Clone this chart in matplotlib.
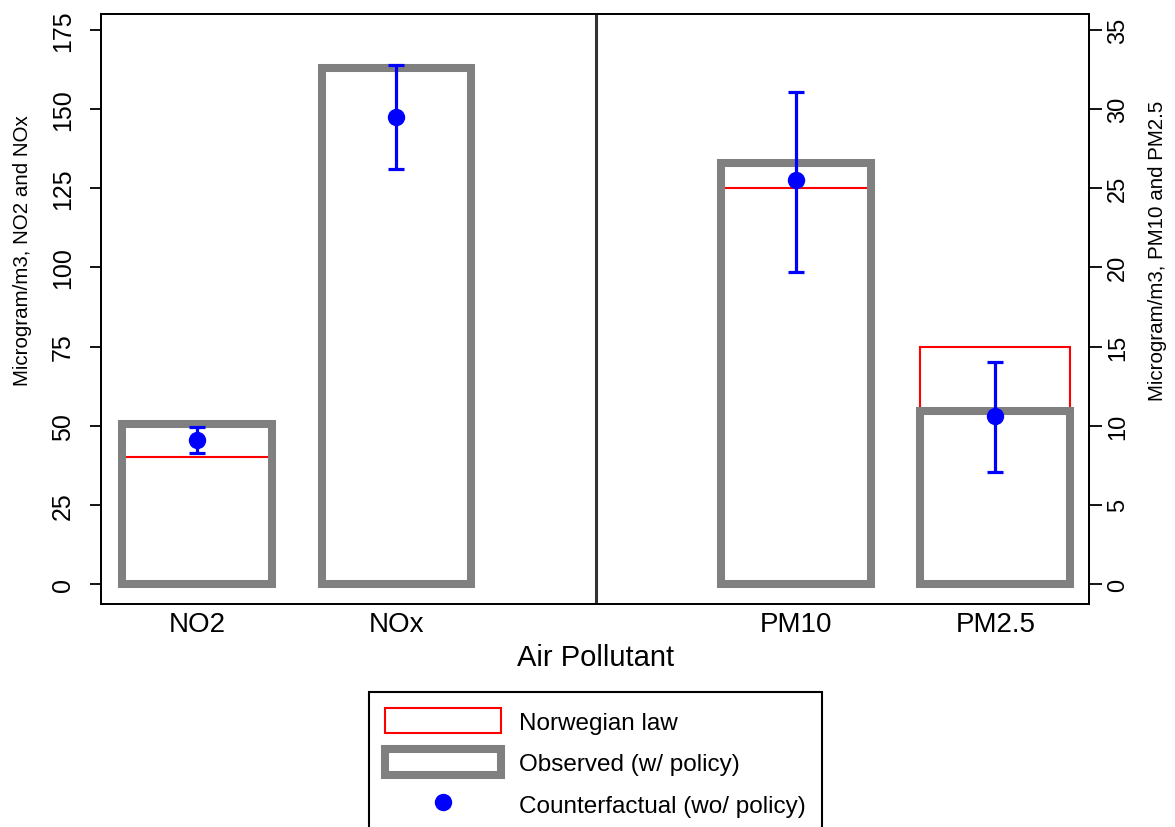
import numpy as np
import matplotlib
matplotlib.use("Agg")
import matplotlib.pyplot as plt
from matplotlib.patches import Patch
from matplotlib.lines import Line2D

plt.rcParams['font.family'] = ['Liberation Sans', 'DejaVu Sans']

# NO2 / NOx on the left axis, PM10 / PM2.5 on the right axis
no_names = ['NO2', 'NOx']
pm_names = ['PM10', 'PM2.5']
no_pos = [1, 2]
pm_pos = [4, 5]

no_observed = [50.5, 163.0]
no_law = [40, None]
no_cf = [45.5, 147.5]
no_cf_lo = [41.4, 131.1]
no_cf_hi = [49.6, 163.9]

pm_observed = [26.6, 10.9]
pm_law = [25, 15]
pm_cf = [25.5, 10.6]
pm_cf_lo = [19.7, 7.1]
pm_cf_hi = [31.1, 14.0]

left_ticks = [0, 25, 50, 75, 100, 125, 150, 175]
right_ticks = [0, 5, 10, 15, 20, 25, 30, 35]

GRAY = '#808080'
BLUE = '#0000ff'
RED = '#ff0000'
W = 0.75

fig = plt.figure(figsize=(11.75, 8.28), dpi=100)
ax = fig.add_axes([0.0860, 0.2693, 0.8409, 0.7126])
ax2 = ax.twinx()

ylo, yhi = -6.3, 180.0
ax.set_ylim(ylo, yhi)
ax2.set_ylim(ylo / 5, yhi / 5)
ax.set_xlim(0.52, 5.47)


def draw_group(a, pos, observed, law, cf, lo, hi):
    for p, lv in zip(pos, law):
        if lv is not None:
            a.bar(p, lv, width=W, fill=False, edgecolor=RED, linewidth=1.5, zorder=2)
    a.bar(pos, observed, width=W, fill=False, edgecolor=GRAY, linewidth=5.8, zorder=3)
    err = [np.array(cf) - np.array(lo), np.array(hi) - np.array(cf)]
    a.errorbar(pos, cf, yerr=err, fmt='o', color=BLUE, ms=11.5, elinewidth=2.3,
               capsize=5.5, capthick=2.3, zorder=4)


draw_group(ax, no_pos, no_observed, no_law, no_cf, no_cf_lo, no_cf_hi)
draw_group(ax2, pm_pos, pm_observed, pm_law, pm_cf, pm_cf_lo, pm_cf_hi)

# separator between the two pollutant groups
ax.axvline(3, color='#333333', linewidth=2.2, zorder=1)

ax.set_xticks(no_pos + pm_pos)
ax.set_xticklabels(no_names + pm_names)
ax.tick_params(axis='x', length=0, pad=5, labelsize=20)

ax.set_yticks(left_ticks)
ax.tick_params(axis='y', length=8, width=1.3, pad=11, labelsize=18)
for t in ax.get_yticklabels():
    t.set_rotation(90)
    t.set_va('center')

ax2.set_yticks(right_ticks)
ax2.tick_params(axis='y', length=9, width=1.3, pad=4, labelsize=17)
for t in ax2.get_yticklabels():
    t.set_rotation(90)
    t.set_va('center')

for a in (ax, ax2):
    for s in a.spines.values():
        s.set_linewidth(1.3)
        s.set_color('black')

ax.set_xlabel('Air Pollutant', fontsize=21)
ax.xaxis.set_label_coords(0.5, -0.066)
ax.set_ylabel('Microgram/m3, NO2 and NOx', fontsize=14.8)
ax.yaxis.set_label_coords(-0.070, 0.6)
ax2.set_ylabel('Microgram/m3, PM10 and PM2.5', fontsize=14.8)
ax2.yaxis.set_label_coords(1.0597, 0.6)

handles = [
    Patch(facecolor='white', edgecolor=RED, linewidth=1.5),
    Patch(facecolor='white', edgecolor=GRAY, linewidth=5.8),
    Line2D([], [], marker='o', color=BLUE, linestyle='none', markersize=11.5),
]
labels = ['Norwegian law', 'Observed (w/ policy)', 'Counterfactual (wo/ policy)']
leg = fig.legend(handles, labels, loc='upper center',
                 bbox_to_anchor=(595.5 / 1175, 1 - 693 / 828),
                 fontsize=17.5, frameon=True, fancybox=False, framealpha=1,
                 edgecolor='black', handlelength=4.77, handleheight=1.23,
                 handletextpad=0.75, labelspacing=0.65, borderpad=0.65,
                 borderaxespad=0)
leg.get_frame().set_linewidth(1.5)

fig.savefig('out.png', dpi=100)
